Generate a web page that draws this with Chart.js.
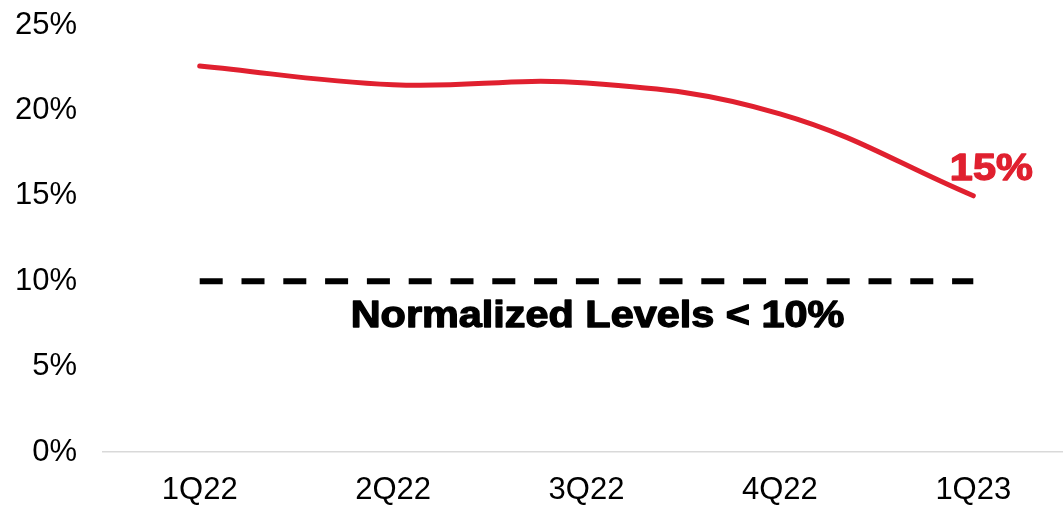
<!DOCTYPE html>
<html>
<head>
<meta charset="utf-8">
<script src="https://cdn.jsdelivr.net/npm/chart.js@4"></script>
<style>
  html, body { margin: 0; padding: 0; background: #fff; overflow: hidden; }
  #wrap { width: 1070px; height: 505px; position: relative; }
</style>
</head>
<body>
<div id="wrap"><canvas id="chart"></canvas></div>
<script>
// Quarterly rate, in percent
const quarters = ['1Q22', '2Q22', '3Q22', '4Q22', '1Q23'];
const rateValues = [22.6, 21.5, 21.6, 19.8, 15];
// Normalized reference level, in percent
const normalLevel = 10;
const normalValues = [10, 10, 10, 10, 10];
const normalLabel = 'Normalized Levels < ' + normalLevel + '%';
// Y axis range and step
const yMin = 0, yMax = 25, yStep = 5;

const RED = '#E0202F';
const FONT = '"Liberation Sans", Arial, sans-serif';

// Heavy caption text: filled and lightly stroked, stretched horizontally
function heavyText(ctx, text, x, y, color) {
  ctx.save();
  ctx.translate(x, y);
  ctx.scale(1.15, 1);
  ctx.font = 'bold 36px ' + FONT;
  ctx.textAlign = 'center';
  ctx.textBaseline = 'alphabetic';
  ctx.fillStyle = color;
  ctx.strokeStyle = color;
  ctx.lineWidth = 1.3;
  ctx.lineJoin = 'round';
  ctx.fillText(text, 0, 0);
  ctx.strokeText(text, 0, 0);
  ctx.restore();
}

// Draws the end-value label and the reference level caption
const annotations = {
  id: 'annotations',
  afterDatasetsDraw(chart) {
    const { ctx, scales: { x, y } } = chart;

    // last value label
    const li = rateValues.length - 1;
    const px = x.getPixelForValue(li);
    const py = y.getPixelForValue(rateValues[li]);
    heavyText(ctx, Math.round(rateValues[li]) + '%', px + 18, py - 16, RED);

    // reference level caption
    const cx = (x.getPixelForValue(0) + x.getPixelForValue(quarters.length - 1)) / 2 + 11;
    const cy = y.getPixelForValue(normalLevel) + 46;
    heavyText(ctx, normalLabel, cx, cy, '#000');
  }
};

new Chart(document.getElementById('chart'), {
  type: 'line',
  data: {
    labels: quarters,
    datasets: [
      {
        data: rateValues,
        borderColor: RED,
        borderWidth: 5,
        borderCapStyle: 'round',
        tension: 0.4,
        pointRadius: 0,
        fill: false
      },
      {
        data: normalValues,
        borderColor: '#000',
        borderWidth: 6,
        borderDash: [23, 18.8],
        borderCapStyle: 'butt',
        tension: 0,
        pointRadius: 0,
        fill: false
      }
    ]
  },
  options: {
    responsive: true,
    maintainAspectRatio: false,
    animation: false,
    devicePixelRatio: 1,
    layout: { padding: { top: 25, right: 0, bottom: 0, left: 0 } },
    plugins: {
      legend: { display: false },
      tooltip: { enabled: false }
    },
    scales: {
      x: {
        offset: true,
        grid: { display: false, drawTicks: false },
        border: { display: true, color: '#d9d9d9', width: 1.5 },
        ticks: {
          color: '#000',
          font: { family: FONT, size: 31 },
          padding: 20,
          maxRotation: 0
        },
        afterFit(scale) {
          scale.height = 53;
          scale.paddingLeft = 0;
          scale.paddingRight = 0;
        }
      },
      y: {
        min: yMin,
        max: yMax,
        grid: { display: false, drawTicks: false },
        border: { display: false },
        ticks: {
          stepSize: yStep,
          color: '#000',
          font: { family: FONT, size: 31 },
          padding: 26,
          callback: (v) => v + '%'
        },
        afterFit(scale) {
          scale.width = 103;
          scale.paddingTop = 0;
          scale.paddingBottom = 0;
        }
      }
    }
  },
  plugins: [annotations]
});
</script>
</body>
</html>
